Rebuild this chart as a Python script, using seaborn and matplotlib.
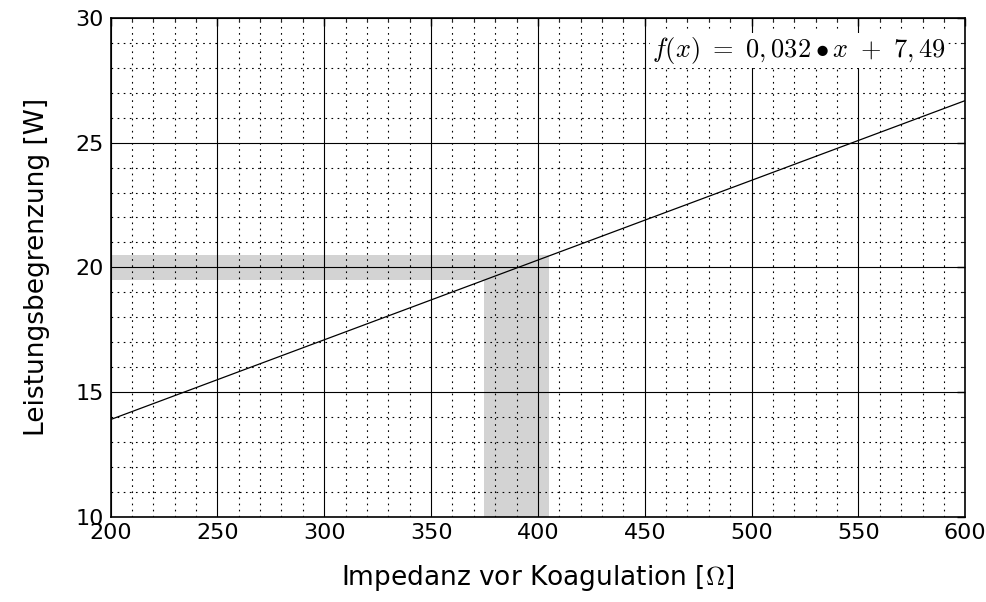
import numpy as np
import pandas as pd
import matplotlib
matplotlib.use("Agg")
import matplotlib.pyplot as plt
import seaborn as sns
from matplotlib.ticker import MultipleLocator

# data
impedance = [200, 600]
power_limit = [13.89, 26.69]

# shaded ranges
band_x = [375, 405]
band_y = [19.5, 20.5]

x_ticks = [200, 250, 300, 350, 400, 450, 500, 550, 600]
y_ticks = [10, 15, 20, 25, 30]

df = pd.DataFrame({"x": impedance, "y": power_limit})

sns.set_style("white")
plt.rcParams["font.family"] = ["DejaVu Sans"]
plt.rcParams["mathtext.fontset"] = "cm"
plt.rcParams["text.color"] = "black"
plt.rcParams["axes.labelcolor"] = "black"

fig, ax = plt.subplots(figsize=(9.87, 6.02), dpi=100)

# grey bands
ax.fill_between([x_ticks[0], band_x[1]], band_y[0], band_y[1], color="#d3d3d3", lw=0, zorder=1)
ax.fill_between(band_x, y_ticks[0], band_y[1], color="#d3d3d3", lw=0, zorder=1)

sns.lineplot(data=df, x="x", y="y", color="black", lw=0.9, ax=ax, zorder=3)

ax.set_xlim(200, 600)
ax.set_ylim(10, 30)
ax.set_xticks(x_ticks)
ax.set_yticks(y_ticks)
ax.xaxis.set_minor_locator(MultipleLocator(10))
ax.yaxis.set_minor_locator(MultipleLocator(1))

ax.grid(which="major", color="black", lw=0.8, zorder=2)
ax.grid(which="minor", color="black", lw=0.8, ls=(0, (1.5, 4)), zorder=2)
ax.set_axisbelow(False)

ax.tick_params(which="major", direction="in", length=6, width=1, labelsize=16,
               top=True, right=True, pad=5, colors="black")
ax.tick_params(which="minor", direction="in", length=3, width=0.8, top=True, right=True)

for s in ax.spines.values():
    s.set_color("black")
    s.set_linewidth(1.2)
    s.set_zorder(4)

ax.set_xlabel("Impedanz vor Koagulation [$\\Omega$]", fontsize=19, labelpad=14, color="black")
ax.set_ylabel("Leistungsbegrenzung [W]", fontsize=19, labelpad=18, color="black")

ax.text(0.977, 0.935, "$f(x)\\ =\\ 0,032 \\bullet x\\ +\\ 7,49$", transform=ax.transAxes,
        ha="right", va="center", fontsize=19, zorder=5, color="black",
        bbox=dict(facecolor="white", edgecolor="none", pad=1.5))

plt.subplots_adjust(left=0.112, right=0.978, top=0.97, bottom=0.142)
plt.savefig("out.png", dpi=100)
